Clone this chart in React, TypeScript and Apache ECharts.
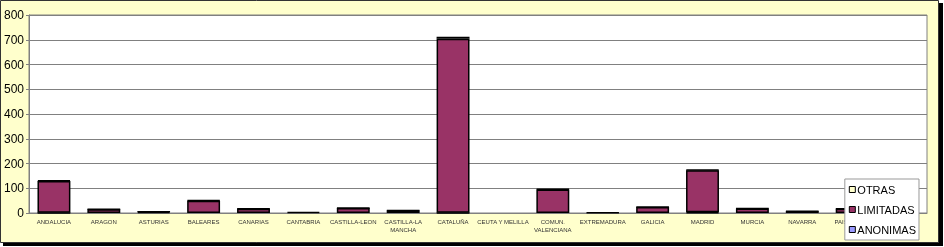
import React, { useEffect, useRef } from "react";
import * as echarts from "echarts";

const categories = [
  "ANDALUCIA", "ARAGON", "ASTURIAS", "BALEARES", "CANARIAS", "CANTABRIA",
  "CASTILLA-LEON", "CASTILLA-LA\nMANCHA", "CATALUÑA", "CEUTA Y MELILLA",
  "COMUN.\nVALENCIANA", "EXTREMADURA", "GALICIA", "MADRID", "MURCIA",
  "NAVARRA", "PAIS VASCO", "LA RIOJA",
];
const anonimas = [1, "-", "-", "-", "-", "-", "-", "-", 1, "-", "-", "-", "-", 3, "-", "-", "-", "-"];
const limitadas = [128, 15, 5, 50, 17, 4, 20, 10, 703, "-", 95, 2, 24, 170, 18, 7, 17, 5];
const otras = [3, 1, 1, 2, 1, "-", 1, 1, 8, "-", 2, "-", 1, 2, 1, 1, 1, "-"];
const yTicks = { min: 0, max: 800, interval: 100 };

export default function App() {
  const ref = useRef<HTMLDivElement>(null);
  useEffect(() => {
    if (!ref.current) return;
    const chart = echarts.init(ref.current, undefined, { renderer: "svg" });
    const barStyle = (color: string) => ({
      color,
      borderColor: "#000",
      borderWidth: 1.5,
    });
    chart.setOption({
      animation: false,
      textStyle: { fontFamily: "Arial, 'Liberation Sans', sans-serif" },
      graphic: [
        { type: "rect", z: -10, shape: { x: 3, y: 3, width: 940, height: 243 }, style: { fill: "#000" } },
        { type: "rect", z: -9, shape: { x: 0.5, y: 0.5, width: 938, height: 242 }, style: { fill: "#FFFFCC", stroke: "#333", lineWidth: 1 } },
      ],
      grid: {
        left: 29, top: 15, right: 17, bottom: 34,
        show: true, backgroundColor: "#fff", borderColor: "#808080", borderWidth: 1,
      },
      legend: {
        orient: "vertical",
        right: 25,
        top: 179,
        icon: "rect",
        itemWidth: 6,
        itemHeight: 6,
        itemGap: 9,
        padding: [5, 3, 5, 4],
        backgroundColor: "#fff",
        borderColor: "#999",
        borderWidth: 1,
        data: ["OTRAS", "LIMITADAS", "ANONIMAS"],
        textStyle: { fontSize: 11, color: "#000", padding: [0, 0, 0, -3] },
        itemStyle: { borderColor: "#000", borderWidth: 1 },
      },
      xAxis: {
        type: "category",
        data: categories,
        axisLine: { lineStyle: { color: "#808080" } },
        axisTick: { show: false },
        axisLabel: { interval: 0, fontSize: 6, color: "#333", margin: 5, lineHeight: 8 },
      },
      yAxis: {
        type: "value",
        ...yTicks,
        axisLine: { show: true, lineStyle: { color: "#808080" } },
        axisTick: { show: true, length: 3, lineStyle: { color: "#808080" } },
        splitLine: { lineStyle: { color: "#808080", width: 1 } },
        axisLabel: { fontSize: 12, color: "#000", margin: 5 },
      },
      series: [
        { name: "ANONIMAS", type: "bar", stack: "t", data: anonimas, barCategoryGap: "34%", itemStyle: barStyle("#9999FF") },
        { name: "LIMITADAS", type: "bar", stack: "t", data: limitadas, itemStyle: barStyle("#993366") },
        { name: "OTRAS", type: "bar", stack: "t", data: otras, itemStyle: barStyle("#FFFFCC") },
      ],
    });
    return () => chart.dispose();
  }, []);
  return (
    <div
      ref={ref}
      style={{ position: "fixed", left: 0, top: 0, width: 944, height: 247 }}
    />
  );
}
